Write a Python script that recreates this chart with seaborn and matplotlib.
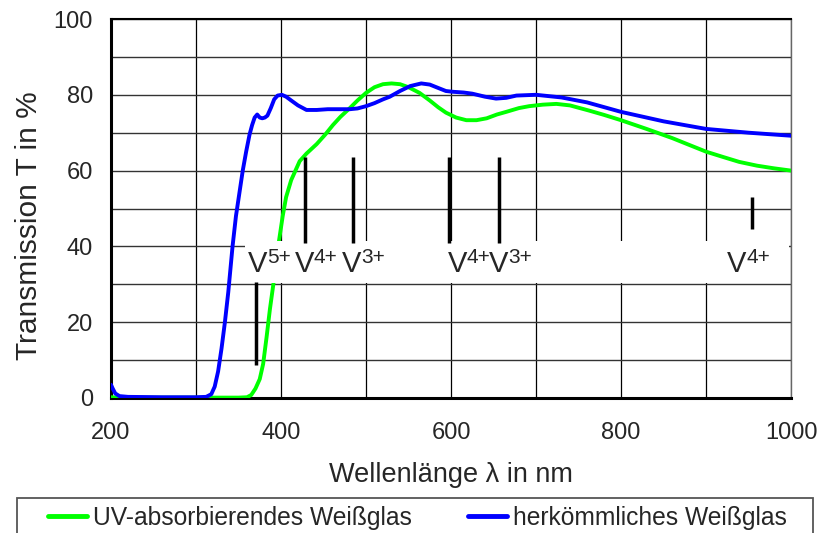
import pandas as pd
import matplotlib
matplotlib.use("Agg")
import matplotlib.pyplot as plt
import seaborn as sns
from matplotlib.patches import Rectangle
from matplotlib.ticker import MultipleLocator

# Spectra (wavelength in nm, transmission in %)
wl_uv = [200, 210, 250, 300, 350, 360, 365, 370, 375, 379, 383, 387, 391, 394, 396, 398,
         402, 406, 412, 418, 422, 430, 442, 452, 461, 470, 481, 490, 500, 510, 520, 530,
         540, 550, 563, 575, 585, 594, 606, 618, 630, 642, 654, 665, 680, 692, 708, 724,
         740, 763, 780, 800, 830, 860, 880, 900, 920, 939, 960, 980, 1000]
t_uv = [0.2, 0.1, 0.1, 0.1, 0.1, 0.2, 0.8, 2.5, 5.0, 9.0, 16.0, 23.5, 30.0, 35.5, 39.0, 42.0,
        48.0, 53.0, 57.5, 60.5, 62.5, 64.5, 67.0, 69.5, 72.0, 74.2, 76.5, 78.5, 80.5, 82.0, 82.8, 83.0,
        82.8, 82.0, 80.5, 78.5, 76.7, 75.3, 74.0, 73.3, 73.3, 73.8, 74.8, 75.5, 76.5, 77.0, 77.4, 77.6,
        77.2, 75.8, 74.7, 73.3, 71.0, 68.6, 66.8, 65.0, 63.6, 62.3, 61.3, 60.6, 60.0]

wl_std = [200, 202, 205, 210, 220, 260, 300, 312, 318, 322, 326, 330, 334, 338, 343, 347,
          351, 355, 359, 363, 366, 369, 372, 375, 378, 381, 384, 388, 392, 396, 401, 406,
          412, 420, 430, 442, 455, 468, 481, 490, 500, 510, 520, 528, 540, 552, 565, 575,
          585, 594, 602, 615, 625, 640, 653, 665, 677, 700, 730, 760, 800, 850, 900, 950, 1000]
t_std = [3.5, 2.5, 1.2, 0.5, 0.3, 0.2, 0.2, 0.3, 1.0, 3.0, 7.0, 13.0, 20.0, 28.0, 40.0, 48.0,
         54.0, 60.0, 65.0, 69.5, 72.0, 74.0, 74.8, 74.0, 73.8, 74.0, 74.5, 76.5, 78.8, 79.8, 80.0, 79.5,
         78.5, 77.2, 76.0, 76.0, 76.2, 76.2, 76.2, 76.4, 77.0, 77.8, 78.8, 79.5, 81.0, 82.3, 83.0, 82.7,
         81.8, 81.0, 80.8, 80.6, 80.3, 79.5, 79.0, 79.2, 79.8, 80.0, 79.3, 78.0, 75.5, 73.0, 71.0, 70.0, 69.2]

# Absorption bands of the vanadium ions
ion_names = ["V", "V", "V", "V", "V", "V"]
ion_charges = ["5+", "4+", "3+", "4+", "3+", "4+"]
ion_text_x = [361, 416, 472, 596, 645, 925]
ion_line_x = [371, 428, 485, 598, 656, 954]
ion_line_lo = [8.7, 41, 41, 41, 41, 44.6]
ion_line_hi = [30.6, 63.6, 63.6, 63.6, 63.6, 53]

series_names = ["UV-absorbierendes Weißglas", "herkömmliches Weißglas"]
series_colors = ["#00ff00", "#0000ff"]

df = pd.concat([
    pd.DataFrame({"wl": wl_uv, "T": t_uv, "glas": series_names[0]}),
    pd.DataFrame({"wl": wl_std, "T": t_std, "glas": series_names[1]}),
])

sns.set_style("white")
plt.rcParams["font.family"] = ["Liberation Sans", "DejaVu Sans"]

fig = plt.figure(figsize=(8.21, 5.33), dpi=100)
ax = fig.add_axes([111 / 821, 1 - 398 / 533, 680 / 821, 379 / 533])

sns.lineplot(data=df, x="wl", y="T", hue="glas", sort=False, estimator=None,
             palette=dict(zip(series_names, series_colors)),
             linewidth=2.8, ax=ax, zorder=3)

ax.set_xlim(200, 1000)
ax.set_ylim(0, 100)
ax.xaxis.set_major_locator(MultipleLocator(200))
ax.xaxis.set_minor_locator(MultipleLocator(100))
ax.yaxis.set_major_locator(MultipleLocator(20))
ax.yaxis.set_minor_locator(MultipleLocator(10))
ax.grid(True, which="both", axis="x", color="black", linewidth=0.9)
ax.grid(True, which="both", axis="y", color="#333333", linewidth=1.0)
ax.set_axisbelow(True)
ax.tick_params(axis="both", which="major", direction="in", length=6, width=1.2,
               color="black", labelsize=17)
ax.tick_params(axis="x", which="major", pad=17)
ax.tick_params(axis="y", which="major", pad=13)
ax.tick_params(axis="both", which="minor", direction="in", length=4, width=1, color="black")
for side in ["left", "bottom", "top"]:
    ax.spines[side].set_color("black")
ax.spines["left"].set_linewidth(2.2)
ax.spines["bottom"].set_linewidth(2.2)
ax.spines["top"].set_linewidth(1.5)
ax.spines["right"].set_linewidth(1.0)
ax.spines["right"].set_color("#666666")

# white patch behind the ion labels
ax.add_patch(Rectangle((357.4, 30.4), 998 - 357.4, 41.3 - 30.4, facecolor="white",
                       edgecolor="none", zorder=4))

ax.vlines(ion_line_x, ion_line_lo, ion_line_hi, colors="black", linewidth=2.5, zorder=5)
for name, charge, xv in zip(ion_names, ion_charges, ion_text_x):
    ax.text(xv, 33.2, name, ha="left", va="baseline", fontsize=21, zorder=6)
    ax.annotate(charge, xy=(xv, 33.2), xytext=(13.8, 6.5), textcoords="offset points",
                ha="left", va="baseline", fontsize=15, zorder=6)

ax.set_xlabel("Wellenlänge λ in nm", fontsize=19.5)
ax.xaxis.set_label_coords(0.5, -0.169)
ax.set_ylabel("Transmission T in %", fontsize=21.5)
ax.yaxis.set_label_coords(-0.1, 0.456)

handles, labels = ax.get_legend_handles_labels()
ax.get_legend().remove()

# legend frame runs off the bottom edge like in the original
fig.patches.append(Rectangle((17 / 821, -0.05), (813 - 17) / 821, 0.05 + 35 / 533,
                             transform=fig.transFigure, facecolor="white",
                             edgecolor="#555555", linewidth=1.3, zorder=0))
leg = fig.legend(handles, labels, loc="center left", ncol=2,
                 bbox_to_anchor=(48 / 821, 1 - 518 / 533),
                 fontsize=17.7, frameon=False, handlelength=1.6, handletextpad=0.22,
                 columnspacing=2.3, borderpad=0, borderaxespad=0)
for line in leg.get_lines():
    line.set_linewidth(3.5)

fig.savefig("out.png", dpi=100)
